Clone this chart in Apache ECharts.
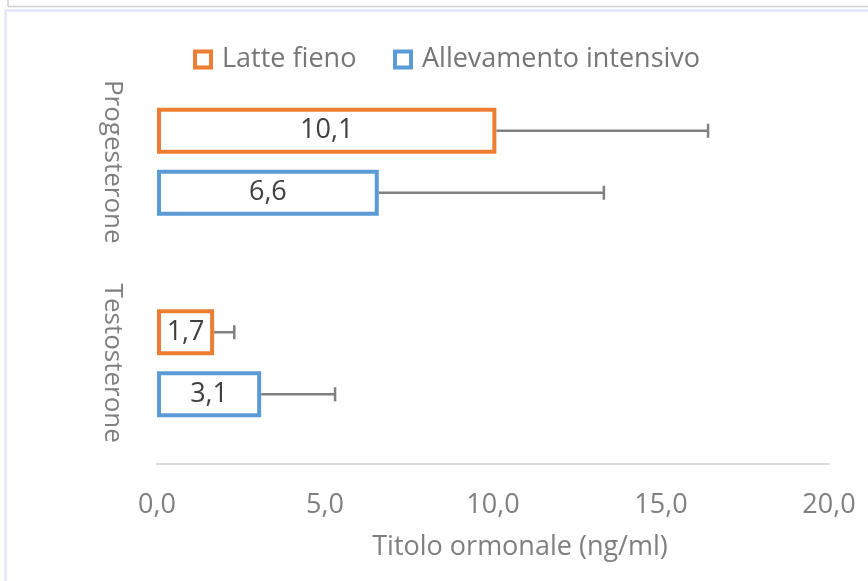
<!DOCTYPE html>
<html>
<head>
<meta charset="utf-8">
<script src="https://cdn.jsdelivr.net/npm/echarts@6/dist/echarts.min.js"></script>
<style>
html,body{margin:0;padding:0;background:#fff;}
#chart{width:868px;height:581px;}
</style>
</head>
<body>
<div id="chart"></div>
<script>
// Data (bottom-to-top category order for the value/category grid)
var categories = ['Testosterone', 'Progesterone'];
var seriesNames = ['Latte fieno', 'Allevamento intensivo'];
var latteFieno = [1.7, 10.1];
var latteFienoErr = [0.6, 6.3];
var allevamento = [3.1, 6.6];
var allevamentoErr = [2.2, 6.7];
var xTicks = [0, 5, 10, 15, 20];
var axisTitle = 'Titolo ormonale (ng/ml)';

var ORANGE = '#ed7d31', BLUE = '#5b9bd5';
var BAR_W = 46, GAP = 16;
var FONT = 'Open Sans';

function comma(v){ return v.toFixed(1).replace('.', ','); }

function errSeries(name, vals, errs, offset){
  return {
    type: 'custom',
    name: name + ' err',
    z: 1,
    silent: true,
    encode: {x: 0, y: 1},
    data: vals.map(function(v, i){ return [v, i, errs[i]]; }),
    renderItem: function(params, api){
      var v = api.value(0), c = api.value(1), e = api.value(2);
      var p0 = api.coord([v, c]);
      var p1 = api.coord([v + e, c]);
      var y = p0[1] + offset;
      var st = {stroke: '#808080', lineWidth: 2.5};
      return {type: 'group', children: [
        {type: 'line', shape: {x1: p0[0], y1: y, x2: p1[0], y2: y}, style: st},
        {type: 'line', shape: {x1: p1[0], y1: y - 7, x2: p1[0], y2: y + 7}, style: st}
      ]};
    }
  };
}

var legendText = {fontFamily: FONT, fontSize: 27, color: '#767676', padding: [0, 0, 0, 6]};

var chart = echarts.init(document.getElementById('chart'), null, {renderer: 'canvas'});
chart.setOption({
  animation: false,
  backgroundColor: '#ffffff',
  textStyle: {fontFamily: FONT},
  graphic: [
    {type: 'line', shape: {x1: 8, y1: 0, x2: 8, y2: 6.5}, style: {stroke: '#d0d0d0', lineWidth: 1.5}},
    {type: 'line', shape: {x1: 8, y1: 6.5, x2: 868, y2: 6.5}, style: {stroke: '#d0d0d0', lineWidth: 1.5}},
    {type: 'line', shape: {x1: 5.5, y1: 10.5, x2: 868, y2: 10.5}, style: {stroke: '#dae3f3', lineWidth: 2}},
    {type: 'line', shape: {x1: 5.5, y1: 10.5, x2: 5.5, y2: 581}, style: {stroke: '#dae3f3', lineWidth: 2}}
  ],
  legend: [
    {data: [seriesNames[0]], left: 193, top: 46, padding: 0, icon: 'rect', itemWidth: 16, itemHeight: 16,
     itemStyle: {color: '#ffffff', borderColor: ORANGE, borderWidth: 4}, textStyle: legendText},
    {data: [seriesNames[1]], left: 393, top: 46, padding: 0, icon: 'rect', itemWidth: 16, itemHeight: 16,
     itemStyle: {color: '#ffffff', borderColor: BLUE, borderWidth: 4}, textStyle: legendText}
  ],
  grid: {left: 157, right: 39, top: 61, height: 403, containLabel: false},
  xAxis: {
    type: 'value', min: 0, max: 20, interval: 5,
    axisLine: {show: true, lineStyle: {color: '#d9d9d9', width: 2}},
    axisTick: {show: false},
    splitLine: {show: false},
    axisLabel: {fontFamily: FONT, fontSize: 27, color: '#7f7f7f', margin: 28, formatter: function(v){ return comma(v); }},
    name: axisTitle, nameLocation: 'middle', nameGap: 70,
    nameTextStyle: {fontFamily: FONT, fontSize: 27, color: '#7f7f7f', padding: [0, 0, 0, 54]}
  },
  yAxis: {
    type: 'category', data: categories,
    axisLine: {show: false}, axisTick: {show: false},
    axisLabel: {fontFamily: FONT, fontSize: 26, color: '#7f7f7f', rotate: -90, margin: 32, interval: 0}
  },
  series: [
    {type: 'bar', name: seriesNames[0], data: latteFieno, barWidth: BAR_W, barGap: (GAP / BAR_W * 100) + '%',
     itemStyle: {color: '#ffffff', borderColor: ORANGE, borderWidth: 4}, z: 2,
     label: {show: true, position: 'inside', fontFamily: FONT, fontSize: 27, color: '#404040', formatter: function(p){ return comma(p.value); }}},
    {type: 'bar', name: seriesNames[1], data: allevamento, barWidth: BAR_W,
     itemStyle: {color: '#ffffff', borderColor: BLUE, borderWidth: 4}, z: 2,
     label: {show: true, position: 'inside', fontFamily: FONT, fontSize: 27, color: '#404040', formatter: function(p){ return comma(p.value); }}},
    errSeries(seriesNames[0], latteFieno, latteFienoErr, -(BAR_W + GAP) / 2),
    errSeries(seriesNames[1], allevamento, allevamentoErr, (BAR_W + GAP) / 2)
  ]
});
</script>
</body>
</html>
